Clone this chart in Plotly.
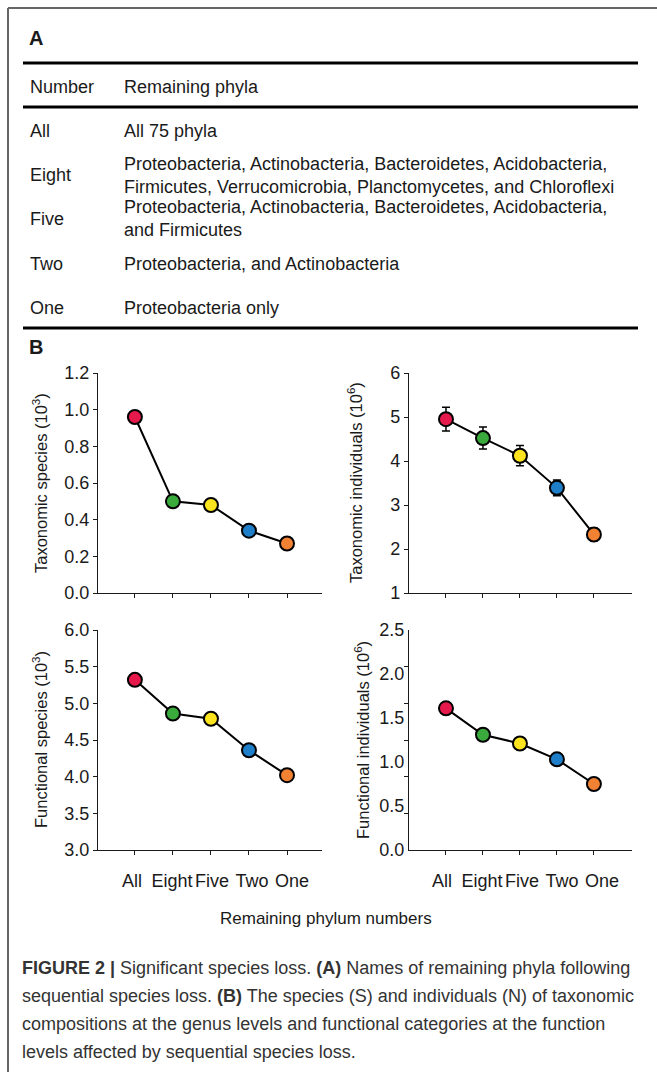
import plotly.graph_objects as go

W, H = 657, 1072

# ---------------- data ----------------
numbers = ["All", "Eight", "Five", "Two", "One"]
phyla = [
    "All 75 phyla",
    "Proteobacteria, Actinobacteria, Bacteroidetes, Acidobacteria,<br>Firmicutes, Verrucomicrobia, Planctomycetes, and Chloroflexi",
    "Proteobacteria, Actinobacteria, Bacteroidetes, Acidobacteria,<br>and Firmicutes",
    "Proteobacteria, and Actinobacteria",
    "Proteobacteria only",
]
point_colors = ["#E5194B", "#3BAA3C", "#FCE51E", "#1E7EC8", "#F28233"]

tax_species = [0.96, 0.50, 0.48, 0.34, 0.27]
tax_species_err = [0.0, 0.0, 0.0, 0.0, 0.0]
tax_indiv = [4.95, 4.52, 4.12, 3.39, 2.33]
tax_indiv_err = [0.27, 0.25, 0.23, 0.18, 0.14]
fun_species = [5.32, 4.86, 4.79, 4.36, 4.02]
fun_species_err = [0.0, 0.0, 0.0, 0.0, 0.0]
fun_indiv = [1.61, 1.31, 1.21, 1.03, 0.75]
fun_indiv_err = [0.06, 0.03, 0.0, 0.0, 0.0]

caption_lines = [
    "<b>FIGURE 2 |</b> Significant species loss. <b>(A)</b> Names of remaining phyla following",
    "sequential species loss. <b>(B)</b> The species (S) and individuals (N) of taxonomic",
    "compositions at the genus levels and functional categories at the function",
    "levels affected by sequential species loss.",
]

# ---------------- helpers ----------------
def px(x):
    return x / W

def py(y):
    return 1 - y / H

FONT = "Arial, 'Liberation Sans', Helvetica, sans-serif"
INK = "#1a1a1a"

fig = go.Figure()

panels = [
    (tax_species, tax_species_err, "x", "y"),
    (tax_indiv, tax_indiv_err, "x2", "y2"),
    (fun_species, fun_species_err, "x3", "y3"),
    (fun_indiv, fun_indiv_err, "x4", "y4"),
]
xpos = list(range(len(numbers)))
for vals, errs, xa, ya in panels:
    fig.add_trace(go.Scatter(
        x=xpos, y=vals, xaxis=xa, yaxis=ya,
        mode="lines+markers",
        line=dict(color="black", width=2),
        marker=dict(size=14, color=point_colors, line=dict(color="black", width=2)),
        error_y=dict(type="data", array=errs, visible=True, color="black",
                     thickness=1.5, width=4),
        showlegend=False, hoverinfo="skip",
    ))
# empty carriers for the category-label axes under the bottom panels
for xa, ya in (("x5", "y3"), ("x6", "y4")):
    fig.add_trace(go.Scatter(x=xpos, y=[None] * len(xpos), xaxis=xa, yaxis=ya,
                             mode="markers", showlegend=False, hoverinfo="skip"))

# axis geometry (pixels in the window)
left_x = (98, 322)
right_x = (409, 632)
top_y = (373, 593)
bot_y = (630, 850)

def xdom(p):
    return [px(p[0]), px(p[1])]

def ydom(p):
    return [py(p[1]), py(p[0])]

TICKFONT = dict(family=FONT, size=18, color=INK)
common_x = dict(
    showline=True, linecolor=INK, linewidth=1.3, ticks="outside", ticklen=4,
    tickwidth=1.2, tickcolor=INK, showgrid=False, zeroline=False,
    tickvals=xpos, showticklabels=False, automargin=False, fixedrange=True,
)
label_x = dict(
    showline=False, ticks="", showgrid=False, zeroline=False,
    tickvals=xpos, ticktext=numbers, tickfont=TICKFONT, tickangle=0,
    ticklabelstandoff=18, automargin=False, fixedrange=True, side="bottom",
)
common_y = dict(
    showline=True, linecolor=INK, linewidth=1.3, ticks="outside", ticklen=4,
    tickwidth=1.2, tickcolor=INK, showgrid=False, zeroline=False,
    tickfont=TICKFONT, automargin=False, fixedrange=True,
)

fig.update_layout(
    template="none",
    width=W, height=H, autosize=False,
    margin=dict(l=0, r=0, t=0, b=0, pad=0, autoexpand=False),
    paper_bgcolor="white", plot_bgcolor="white",
    font=dict(family=FONT, color=INK),
    showlegend=False,
    xaxis=dict(common_x, domain=xdom(left_x), range=[-0.97, 4.92], anchor="y"),
    yaxis=dict(common_y, domain=ydom(top_y), range=[0, 1.2], dtick=0.2, tickformat=".1f", anchor="x"),
    xaxis2=dict(common_x, domain=xdom(right_x), range=[-1.0, 5.03], anchor="y2"),
    yaxis2=dict(common_y, domain=ydom(top_y), range=[1, 6], dtick=1, anchor="x2"),
    xaxis3=dict(common_x, domain=xdom(left_x), range=[-0.97, 4.92], anchor="y3"),
    yaxis3=dict(common_y, domain=ydom(bot_y), range=[3, 6], dtick=0.5, tickformat=".1f", anchor="x3"),
    xaxis4=dict(common_x, domain=xdom(right_x), range=[-1.0, 5.03], anchor="y4"),
    yaxis4=dict(common_y, domain=ydom(bot_y), range=[0, 2.5], dtick=0.5, tickformat=".1f",
                anchor="x4", ticks="",
                minor=dict(ticks="outside", ticklen=4, tickwidth=1.2, tickcolor=INK,
                           tick0=0, dtick=2.5 / 6, showgrid=False)),
    # category labels (hand-spaced slightly wider than the tick marks, as in the original)
    xaxis5=dict(label_x, domain=xdom(left_x), range=[-0.85, 4.75], anchor="y3", overlaying="x3"),
    xaxis6=dict(label_x, domain=xdom(right_x), range=[-0.825, 4.75], anchor="y4", overlaying="x4"),
)

shapes = []
# outer frame (top and left)
shapes.append(dict(type="line", xref="paper", yref="paper", x0=px(8), x1=px(657), y0=py(8), y1=py(8),
                   line=dict(color="#666666", width=2)))
shapes.append(dict(type="line", xref="paper", yref="paper", x0=px(8), x1=px(8), y0=py(8), y1=py(1072),
                   line=dict(color="#666666", width=2)))
# table rules
for yy in (63, 107, 328):
    shapes.append(dict(type="line", xref="paper", yref="paper", x0=px(23), x1=px(638), y0=py(yy), y1=py(yy),
                       line=dict(color="black", width=3)))
fig.update_layout(shapes=shapes)

ann = []
def text(x, y, s, size=18, anchor="left", bold=False, color=INK, angle=0, yanchor="middle"):
    ann.append(dict(xref="paper", yref="paper", x=px(x), y=py(y), text=(f"<b>{s}</b>" if bold else s),
                    showarrow=False, xanchor=anchor, yanchor=yanchor, textangle=angle,
                    font=dict(family=FONT, size=size, color=color), align="left"))

text(27, 38, "A", size=20, bold=True)
text(27, 347, "B", size=20, bold=True)
text(28, 87, "Number")
text(122, 87, "Remaining phyla")
row_y = [131, 175, 219, 264, 308]
for n, p, yy in zip(numbers, phyla, row_y):
    text(28, yy, n)
    text(122, yy, p)

# y axis titles
text(40, 483, "Taxonomic species (10<sup>3</sup>)", size=16.5, anchor="center", angle=-90)
text(355, 483, "Taxonomic individuals (10<sup>6</sup>)", size=16.5, anchor="center", angle=-90)
text(40, 740, "Functional species (10<sup>3</sup>)", size=16.5, anchor="center", angle=-90)
text(362, 740, "Functional individuals (10<sup>6</sup>)", size=16.5, anchor="center", angle=-90)

text(326, 918, "Remaining phylum numbers", size=17, anchor="center")

cap_y = [968, 996, 1024, 1052]
for s, yy in zip(caption_lines, cap_y):
    text(20, yy, s, size=18, color="#333333")

fig.update_layout(annotations=ann)

fig.write_html("out.html", config={"displayModeBar": False},
               post_script="document.body.style.margin='0px';")
